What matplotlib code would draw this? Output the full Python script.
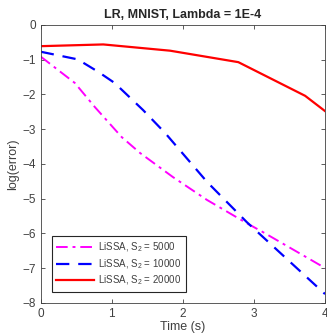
import matplotlib
matplotlib.use("Agg")
import matplotlib.pyplot as plt


# ----------------------------
# Data
# ----------------------------

t_5000 = [0, 0.48, 0.76, 1.14, 1.40, 1.86, 2.34, 2.90, 3.13, 4.0]
err_5000 = [-0.91, -1.67, -2.36, -3.23, -3.69, -4.38, -5.04, -5.71, -5.97, -7.0]

t_10000 = [0, 0.52, 0.81, 1.04, 1.44, 1.75, 2.34, 2.90, 4.0]
err_10000 = [-0.77, -0.99, -1.35, -1.67, -2.45, -3.11, -4.52, -5.68, -7.75]

t_20000 = [0, 0.88, 1.82, 2.78, 3.72, 4.0]
err_20000 = [-0.61, -0.56, -0.74, -1.07, -2.04, -2.48]

labels = ["LiSSA, S$_2$ = 5000", "LiSSA, S$_2$ = 10000", "LiSSA, S$_2$ = 20000"]

x_ticks = [0, 1, 2, 3, 4]
y_ticks = [0, -1, -2, -3, -4, -5, -6, -7, -8]


# ----------------------------
# Plot
# ----------------------------

plt.rcParams["font.family"] = ["Liberation Sans", "DejaVu Sans"]
plt.rcParams["mathtext.fontset"] = "custom"
plt.rcParams["mathtext.rm"] = "Liberation Sans"

fig = plt.figure(figsize=(3.27, 3.36), dpi=100)
ax = fig.add_axes([0.1245, 0.099, 0.8695, 0.8266])

ax.plot(t_5000, err_5000, color="#ff00ff", lw=1.4, ls=(0, (6, 2.5, 1.5, 2.5)),
        label=labels[0])
ax.plot(t_10000, err_10000, color="#0000ff", lw=1.6, ls=(0, (6, 4)),
        label=labels[1])
ax.plot(t_20000, err_20000, color="#ff0000", lw=1.6, ls="-",
        label=labels[2])

ax.set_xlim(0, 4)
ax.set_ylim(-8, 0)
ax.set_xticks(x_ticks)
ax.set_yticks(y_ticks)

grey = "#404040"
for s in ax.spines.values():
    s.set_color(grey)
    s.set_linewidth(0.6)
ax.tick_params(direction="in", top=True, right=True, length=3, width=0.6,
               colors=grey, labelsize=8.5, labelcolor=grey)

ax.set_title("LR, MNIST, Lambda = 1E-4", fontsize=9, fontweight="bold",
             color="#262626", pad=5)
ax.set_xlabel("Time (s)", fontsize=9, color=grey, labelpad=1)
ax.set_ylabel("log(error)", fontsize=9, color=grey, labelpad=2)

leg = ax.legend(loc="lower left", bbox_to_anchor=(0.04, 0.04), fontsize=7,
                frameon=True, fancybox=False, framealpha=1, borderpad=0.45,
                handlelength=3.9, handletextpad=0.4, labelspacing=0.3,
                borderaxespad=0)
leg.get_frame().set_edgecolor("#262626")
leg.get_frame().set_linewidth(0.8)
for txt in leg.get_texts():
    txt.set_color(grey)

fig.savefig("out.png", dpi=100)
